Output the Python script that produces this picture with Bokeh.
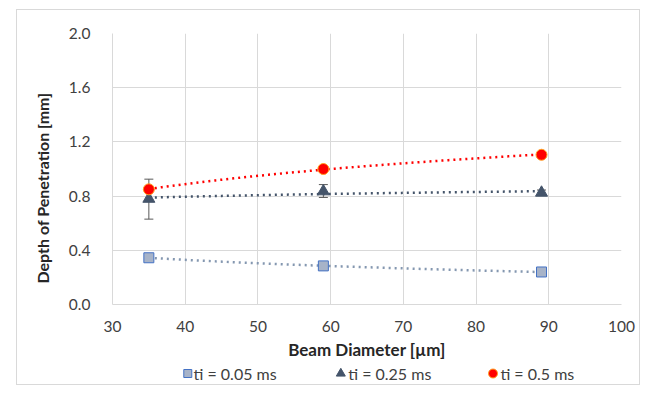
import numpy as np
from bokeh.plotting import figure
from bokeh.layouts import column
from bokeh.models import (ColumnDataSource, Range1d, FixedTicker, PrintfTickFormatter,
                          Whisker, TeeHead, Title)
from bokeh.core.properties import value
from bokeh.embed import file_html
from bokeh.resources import INLINE

# ---- data ----
beam = [35, 59, 89]
dop_005 = [0.345, 0.285, 0.24]
dop_025 = [0.78, 0.835, 0.825]
dop_025_lo = [0.63, 0.79, 0.81]
dop_025_hi = [0.925, 0.885, 0.845]
dop_05 = [0.85, 1.0, 1.105]
x_ticks = [30, 40, 50, 60, 70, 80, 90, 100]
y_ticks = [0.0, 0.4, 0.8, 1.2, 1.6, 2.0]
series_labels = ["ti = 0.05 ms", "ti = 0.25 ms", "ti = 0.5 ms"]

FONT = "Lato"

p = figure(width=622, height=352, x_range=Range1d(30, 100), y_range=Range1d(0, 2),
           output_backend="svg", toolbar_location=None,
           min_border_left=95, min_border_right=18, min_border_top=23, min_border_bottom=54)
p.outline_line_color = None
p.background_fill_color = "white"
p.border_fill_color = "white"

for ax in (p.xaxis[0], p.yaxis[0]):
    ax.axis_line_color = "#d9d9d9"
    ax.major_tick_line_color = None
    ax.minor_tick_line_color = None
    ax.major_label_text_font = FONT
    ax.major_label_text_font_size = "15.5px"
    ax.major_label_text_color = "#404040"

p.xaxis.ticker = FixedTicker(ticks=x_ticks)
p.yaxis.ticker = FixedTicker(ticks=y_ticks)
p.yaxis.formatter = PrintfTickFormatter(format="%.1f")
p.xaxis.major_label_standoff = 10
p.yaxis.major_label_standoff = 16

p.xaxis.axis_label = "Beam Diameter [µm]"
p.xaxis.axis_label_text_font = FONT
p.xaxis.axis_label_text_font_size = "17px"
p.xaxis.axis_label_text_font_style = "bold"
p.xaxis.axis_label_text_color = "#262626"
p.xaxis.axis_label_standoff = 4

p.xgrid.grid_line_color = "#d9d9d9"
p.ygrid.grid_line_color = "#d9d9d9"

# ---- logarithmic trendlines fitted to the data (as in the source chart) ----
def log_trend(xs, ys):
    b, a = np.polyfit(np.log(xs), ys, 1)
    xx = np.linspace(min(xs), max(xs), 60)
    return xx, a + b * np.log(xx)

for ys, col in ((dop_005, "#8497B0"), (dop_025, "#44546A"), (dop_05, "#FF0000")):
    tx, ty = log_trend(beam, ys)
    p.line(tx, ty, line_color=col, line_width=2.5, line_dash="2 4")

# ---- error bars ----
err_src = ColumnDataSource(dict(x=beam, lo=dop_025_lo, hi=dop_025_hi))
p.add_layout(Whisker(source=err_src, base="x", lower="lo", upper="hi", dimension="height",
                     line_color="#595959", line_width=1,
                     upper_head=TeeHead(size=9, line_color="#595959", line_width=1),
                     lower_head=TeeHead(size=9, line_color="#595959", line_width=1)))

# ---- markers ----
p.scatter(beam, dop_005, marker="square", size=10, fill_color="#A7B3C8",
          line_color="#4472C4", line_width=1)
p.scatter(beam, dop_025, marker="triangle", size=12, fill_color="#44546A",
          line_color="#44546A")
p.scatter(beam, dop_05, marker="circle", size=11, fill_color="#FF0000",
          line_color="#FFA020", line_width=1)

# ---- y axis title (placed lower than centre, like the source) ----
p.add_layout(Title(text="Depth of Penetration [mm]", align="left", offset=21,
                   standoff=27, text_font=FONT, text_font_size="16px",
                   text_font_style="bold", text_color="#262626"), "left")

# ---- legend strip (separate small canvas below the chart, 1 unit = 1 px) ----
lg = figure(width=622, height=22, x_range=Range1d(0, 622), y_range=Range1d(0, 22),
            output_backend="svg", toolbar_location=None, x_axis_type=None, y_axis_type=None,
            min_border_left=0, min_border_right=0, min_border_top=0, min_border_bottom=0)
lg.outline_line_color = None
lg.grid.visible = False
lg.background_fill_color = "white"
lg.border_fill_color = "white"

leg_src = ColumnDataSource(dict(
    mx=[92, 279, 465], tx=[99, 288, 474], y=[11, 11, 11],
    marker=["square", "triangle", "circle"],
    size=[8, 9, 9],
    fill=["#A7B3C8", "#44546A", "#FF0000"],
    line=["#4472C4", "#44546A", "#FFA020"],
    label=series_labels))
lg.scatter(x="mx", y="y", marker="marker", size="size", fill_color="fill",
           line_color="line", line_width=1, source=leg_src)
lg.text(x="tx", y="y", text="label", source=leg_src, text_font=value(FONT),
        text_font_size=value("16px"), text_color=value("#404040"),
        text_baseline=value("middle"), text_align=value("left"))

layout = column(p, lg, spacing=0)
layout.margin = (9, 0, 0, 16)
layout.styles = {"border": "1px solid #d9d9d9", "vertical-align": "top"}

open("out.html", "w").write(file_html(layout, INLINE))
